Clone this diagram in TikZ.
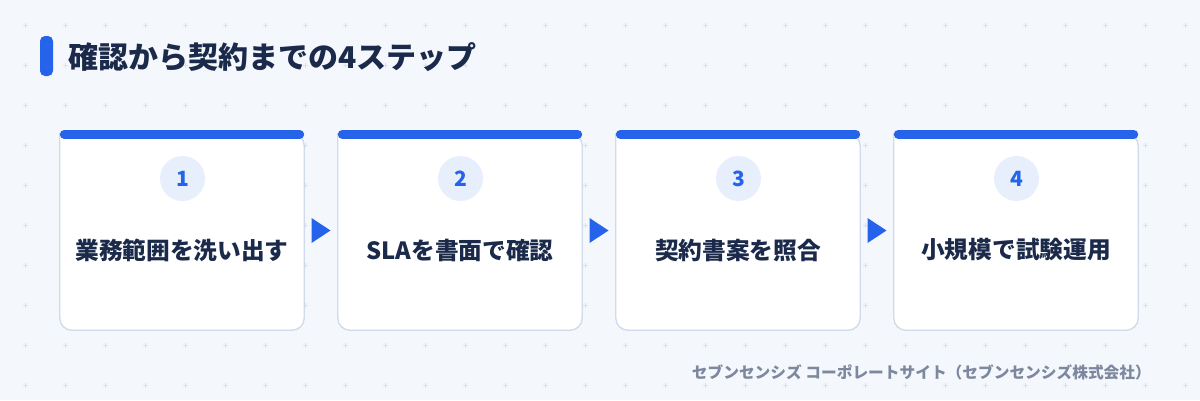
\documentclass[tikz,border=0pt]{standalone}
\usepackage{fontspec}
\setmainfont{Noto Sans CJK JP}
\usetikzlibrary{calc}
\definecolor{bg}{HTML}{F4F7FC}
\definecolor{gridc}{HTML}{DCE2EC}
\definecolor{accent}{HTML}{2563EB}
\definecolor{navy}{HTML}{1B2A4A}
\definecolor{cardline}{HTML}{CFDBEB}
\definecolor{shadowc}{HTML}{D2DDEC}
\definecolor{circfill}{HTML}{E7EFFC}
\definecolor{foot}{HTML}{7D889E}
\begin{document}
\begin{tikzpicture}[x=1pt,y=-1pt,
  cardbox/.style={rectangle, minimum width=244pt, minimum height=196pt, inner sep=0pt, draw=none},
  numcirc/.style={circle, fill=circfill, minimum size=45pt, inner sep=0pt, text=accent, font=\fontsize{21}{23}\selectfont\bfseries},
  steptext/.style={inner sep=0pt, text=navy, font=\fontsize{23.7}{26}\selectfont\bfseries},
  topbar/.style={accent, line width=9pt, line cap=round},
  gridmark/.style={gridc, line width=0.8pt},
  arrowtri/.style={fill=accent}]
\fill[bg] (0,0) rectangle (1200,400);
\useasboundingbox (0,0) rectangle (1200,400);
% background grid
\foreach \gx in {0,...,29}{
  \foreach \gy in {0,...,9}{
    \draw[gridmark] ({25+40*\gx-2.5},{25+40*\gy}) -- ++(5,0)
                    ({25+40*\gx},{25+40*\gy-2.5}) -- ++(0,5);
  }
}
% title
\node[fill=accent, rounded corners=5pt, minimum width=13pt, minimum height=40pt, inner sep=0pt] (tbar) at (46.5,56) {};
\node[anchor=west, inner sep=0pt, text=navy, font=\fontsize{30}{33}\selectfont\bfseries] (title) at (68,57) {確認から契約までの4ステップ};
% cards
\foreach \i/\t in {1/業務範囲を洗い出す, 2/SLAを書面で確認, 3/契約書案を照合, 4/小規模で試験運用}{
  \pgfmathsetmacro\cx{182+278*(\i-1)}
  \node[cardbox] (c\i) at (\cx,232) {};
  \path[fill=shadowc, shift={(4,6)}] (c\i.north west) [rounded corners=12pt] -- (c\i.south west) -- (c\i.south east) -- (c\i.north east) [sharp corners] -- cycle;
  \path[fill=white, draw=cardline, line width=1.3pt] (c\i.north west) [rounded corners=12pt] -- (c\i.south west) -- (c\i.south east) -- (c\i.north east) [sharp corners] -- cycle;
  \draw[topbar] ($(c\i.north west)+(4.5,0.5)$) -- ($(c\i.north east)+(-4.5,0.5)$);
  \node[numcirc] (n\i) at (\cx+0.5,178.5) {\i};
  \node[steptext] (t\i) at (\cx,250) {\t};
}
% arrows between cards
\foreach \i/\j in {1/2, 2/3, 3/4}{
  \coordinate (a\i) at ($(c\i.east)!0.5!(c\j.west)+(0,-1.5)$);
  \fill[arrowtri] ($(a\i)+(-9.5,-12.5)$) -- ($(a\i)+(9.5,0)$) -- ($(a\i)+(-9.5,12.5)$) -- cycle;
}
% footer
\node[anchor=east, inner sep=0pt, text=foot, font=\fontsize{15.7}{18}\selectfont\bfseries] (foot) at (1151,372) {セブンセンシズ コーポレートサイト（セブンセンシズ株式会社）};
\end{tikzpicture}
\end{document}
